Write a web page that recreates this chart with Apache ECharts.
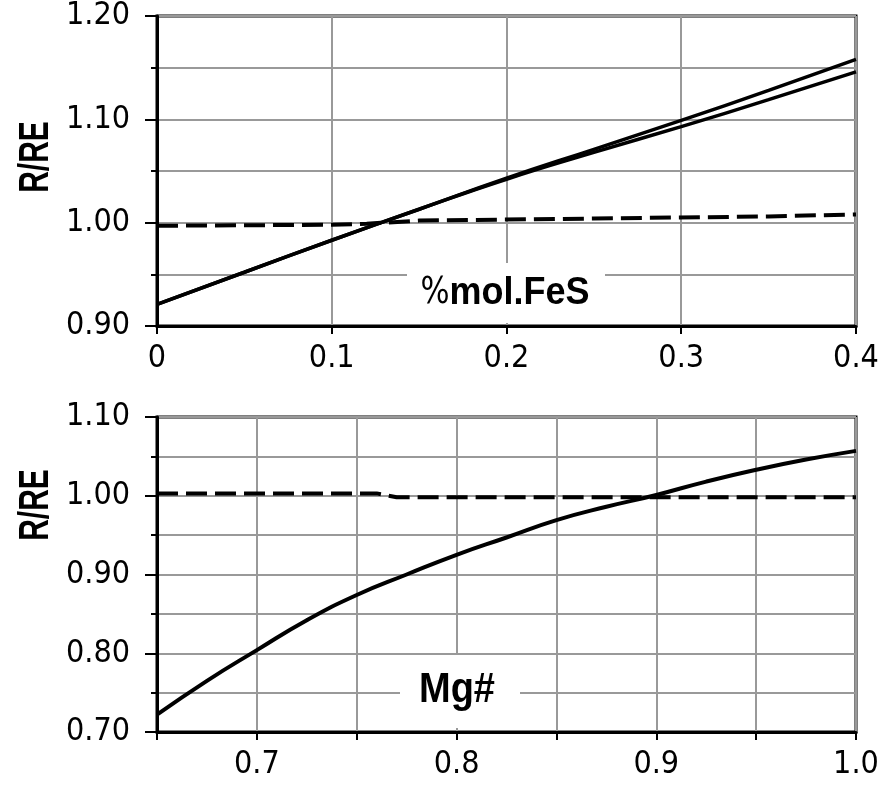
<!DOCTYPE html>
<html>
<head>
<meta charset="utf-8">
<title>R/RE</title>
<script src="https://cdn.jsdelivr.net/npm/echarts@6.0.0/dist/echarts.min.js"></script>
<style>
    html, body { margin: 0; padding: 0; background: #fff; }
    #main { width: 886px; height: 786px; }
</style>
</head>
<body>
<div id="main"></div>
<script>
// top panel: %mol.FeS
var feS = [0, 0.05, 0.1, 0.15, 0.2, 0.25, 0.3, 0.35, 0.4];
var feUpper = [0.921, 0.952, 0.983, 1.013, 1.043, 1.071, 1.099, 1.128, 1.158];
var feLower = [0.921, 0.952, 0.983, 1.013, 1.042, 1.068, 1.093, 1.119, 1.146];
var feDashX = [0, 0.1, 0.12, 0.15, 0.25, 0.35, 0.4];
var feDashY = [0.997, 0.998, 0.999, 1.002, 1.004, 1.006, 1.008];

// bottom panel: Mg#
var mg = [0.65, 0.675, 0.7, 0.725, 0.75, 0.775, 0.8, 0.825, 0.85, 0.875, 0.9, 0.925, 0.95, 0.975, 1.0];
var mgCurve = [0.722, 0.765, 0.804, 0.842, 0.874, 0.900, 0.925, 0.947, 0.969, 0.986, 1.001, 1.018, 1.033, 1.046, 1.057];
var mgDashX = [0.65, 0.76, 0.77, 1.0];
var mgDashY = [1.003, 1.003, 0.998, 0.998];

var topYTicks = [0.90, 1.20, 0.10];   // min, max, step
var topXTicks = [0, 0.4, 0.1];
var botYTicks = [0.70, 1.10, 0.10];
var botXTicks = [0.65, 1.0, 0.05];

var page = {
    init : function() {
        page.funcs.render();
    }
    ,funcs : {
        zip : function(xs, ys) {
            var out = [];
            for (var i = 0; i < xs.length; i++) {
                out.push([xs[i], ys[i]]);
            }
            return out;
        }
        ,labelFont : function() {
            return {
                color : '#000',
                fontFamily : '"Liberation Sans Narrow", "DejaVu Sans Condensed", sans-serif',
                fontSize : 32
            };
        }
        ,yAxis : function(idx, t) {
            var lf = page.funcs.labelFont();
            return {
                type : 'value', gridIndex : idx,
                min : t[0], max : t[1], interval : t[2],
                axisLine : { show : true, lineStyle : { color : '#000', width : 3 } },
                axisTick : { show : true, length : 12, lineStyle : { color : '#000', width : 2 } },
                minorTick : { show : true, splitNumber : 2, length : 6, lineStyle : { color : '#000', width : 2 } },
                splitLine : { show : true, lineStyle : { color : '#999', width : 2 } },
                minorSplitLine : { show : true, lineStyle : { color : '#999', width : 2 } },
                axisLabel : {
                    margin : 27, color : lf.color, fontFamily : lf.fontFamily, fontSize : lf.fontSize,
                    formatter : function(v) { return v.toFixed(2); }
                }
            };
        }
        ,xAxis : function(idx, t, fmt) {
            var lf = page.funcs.labelFont();
            return {
                type : 'value', gridIndex : idx,
                min : t[0], max : t[1], interval : t[2],
                axisLine : { show : true, lineStyle : { color : '#000', width : 3 } },
                axisTick : { show : true, length : 8, lineStyle : { color : '#000', width : 2 } },
                splitLine : { show : true, lineStyle : { color : '#999', width : 2 } },
                axisLabel : {
                    margin : 17, color : lf.color, fontFamily : lf.fontFamily, fontSize : lf.fontSize,
                    formatter : fmt
                }
            };
        }
        /** 轴名 R/RE，竖排 */
        ,sideName : function(y) {
            return { type : 'text', x : 36, y : y, rotation : Math.PI / 2, scaleY : 1.4, z : 100,
                     style : { text : 'R/RE', font : 'bold 30px "Liberation Sans", Arial, sans-serif', fill : '#000',
                               align : 'center', verticalAlign : 'middle', textAlign : 'center', textVerticalAlign : 'middle' } };
        }
        ,render : function() {
            var myChart = echarts.init(document.getElementById('main'), null, { renderer : 'canvas' });
            var bold = '"Liberation Sans", Arial, sans-serif';
            var narrow = '"Liberation Sans Narrow", "DejaVu Sans Condensed", sans-serif';
            var option = {
                backgroundColor : '#fff',
                animation : false,
                grid : [
                    { left : 157, top : 13, width : 699, height : 313, show : true, borderColor : '#000', borderWidth : 3 },
                    { left : 157, top : 417, width : 699, height : 315, show : true, borderColor : '#000', borderWidth : 3 }
                ],
                xAxis : [
                    page.funcs.xAxis(0, topXTicks, function(v) {
                        return v === 0 ? '0' : v.toFixed(1);
                    }),
                    page.funcs.xAxis(1, botXTicks, function(v) {
                        var k = Math.round(v * 100);
                        if (k % 10 !== 0) return '';
                        return (k / 100).toFixed(1);
                    })
                ],
                yAxis : [
                    page.funcs.yAxis(0, topYTicks),
                    page.funcs.yAxis(1, botYTicks)
                ],
                series : [
                    { type : 'line', xAxisIndex : 0, yAxisIndex : 0, data : page.funcs.zip(feS, feUpper),
                      showSymbol : false, smooth : true, lineStyle : { color : '#000', width : 3.5 } },
                    { type : 'line', xAxisIndex : 0, yAxisIndex : 0, data : page.funcs.zip(feS, feLower),
                      showSymbol : false, smooth : true, lineStyle : { color : '#000', width : 3.5 } },
                    { type : 'line', xAxisIndex : 0, yAxisIndex : 0, data : page.funcs.zip(feDashX, feDashY),
                      showSymbol : false, lineStyle : { color : '#000', width : 4, type : [21, 8] } },
                    { type : 'line', xAxisIndex : 1, yAxisIndex : 1, data : page.funcs.zip(mg, mgCurve),
                      showSymbol : false, smooth : true, lineStyle : { color : '#000', width : 4 } },
                    { type : 'line', xAxisIndex : 1, yAxisIndex : 1, data : page.funcs.zip(mgDashX, mgDashY),
                      showSymbol : false, lineStyle : { color : '#000', width : 4, type : [21, 8] } }
                ],
                graphic : [
                    page.funcs.sideName(157),
                    page.funcs.sideName(505),
                    { type : 'rect', z : 100, shape : { x : 407, y : 263, width : 198, height : 60 }, style : { fill : '#fff' } },
                    { type : 'text', x : 505, y : 293, scaleY : 1.1, z : 101,
                      style : { text : '{a|%}{b|mol.FeS}', fill : '#000',
                                align : 'center', verticalAlign : 'middle', textAlign : 'center', textVerticalAlign : 'middle',
                                rich : {
                                    a : { fontFamily : narrow, fontSize : 34, fontWeight : 'normal', fill : '#000', color : '#000' },
                                    b : { fontFamily : bold, fontSize : 36, fontWeight : 'bold', fill : '#000', color : '#000' }
                                } } },
                    { type : 'rect', z : 100, shape : { x : 400, y : 655, width : 120, height : 73 }, style : { fill : '#fff' } },
                    { type : 'text', x : 457, y : 690, scaleY : 1.1, z : 101,
                      style : { text : 'Mg#', font : 'bold 38px ' + bold, fill : '#000',
                                align : 'center', verticalAlign : 'middle', textAlign : 'center', textVerticalAlign : 'middle' } }
                ]
            };
            myChart.setOption(option);
            window.onresize = function() {
                myChart.resize();
            }
        }
    }
}
page.init();
</script>
</body>
</html>
